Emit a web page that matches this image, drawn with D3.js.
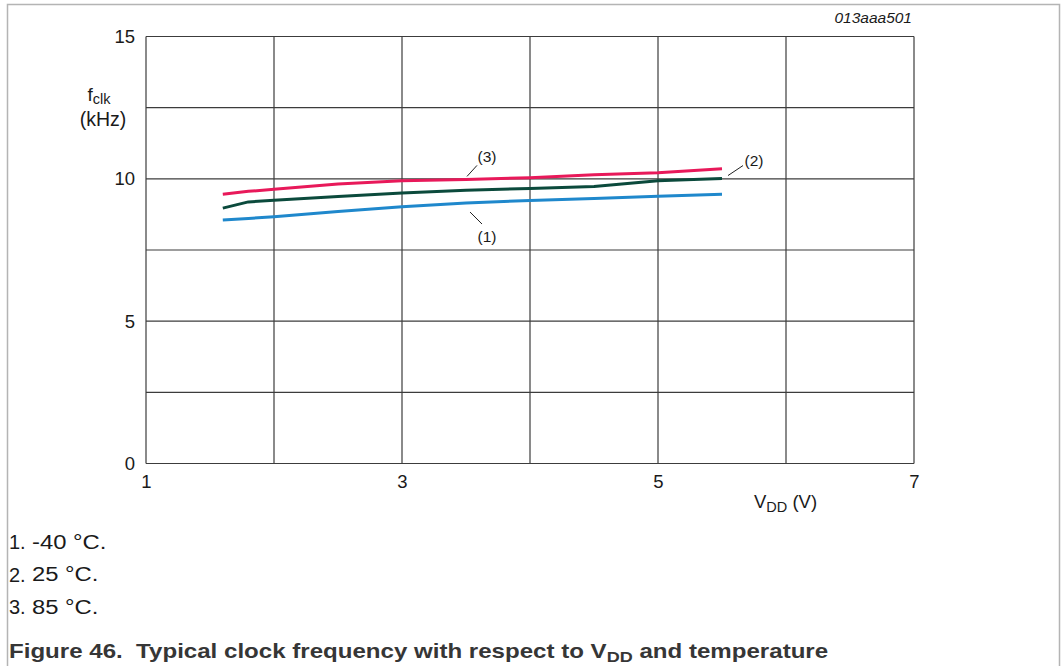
<!DOCTYPE html>
<html>
<head>
<meta charset="utf-8">
<script src="https://cdn.jsdelivr.net/npm/d3@7"></script>
<style>
  html, body { margin: 0; padding: 0; background: #fff; }
  svg { display: block; font-family: "Liberation Sans", Arial, sans-serif; }
</style>
</head>
<body>
<svg id="chart" width="1063" height="666"></svg>
<script>
// Supply voltage (V) sample points
const vdd = [1.6, 1.8, 2.0, 2.5, 3.0, 3.5, 4.0, 4.5, 5.0, 5.5];
// Clock frequency (kHz) per temperature
const fMinus40 = [8.55, 8.61, 8.67, 8.85, 9.02, 9.15, 9.24, 9.31, 9.39, 9.46];
const f25      = [8.97, 9.19, 9.25, 9.38, 9.50, 9.60, 9.66, 9.73, 9.93, 10.01];
const f85      = [9.46, 9.56, 9.63, 9.82, 9.93, 9.98, 10.04, 10.14, 10.21, 10.35];

const xTicks = [1, 3, 5, 7];
const yTicks = [0, 5, 10, 15];
const xGrid = [1, 2, 3, 4, 5, 6, 7];
const yGrid = [0, 2.5, 5, 7.5, 10, 12.5, 15];

const legendItems = ["-40 °C.", "25 °C.", "85 °C."];

const svg = d3.select("#chart");

// outer frame
svg.append("path")
  .attr("d", "M7.5,666 V4.5 H1059.5 V666")
  .attr("fill", "none").attr("stroke", "#b4b4b4").attr("stroke-width", 1.5);

const x = d3.scaleLinear().domain([1, 7]).range([146, 914]);
const y = d3.scaleLinear().domain([0, 15]).range([463.5, 36.5]);

const grid = svg.append("g").attr("stroke", "#3c3c3c").attr("stroke-width", 1.2);
grid.selectAll("line.v").data(xGrid).join("line")
  .attr("x1", d => x(d)).attr("x2", d => x(d))
  .attr("y1", y(0)).attr("y2", y(15));
grid.selectAll("line.h").data(yGrid).join("line")
  .attr("y1", d => y(d)).attr("y2", d => y(d))
  .attr("x1", x(1)).attr("x2", x(7));

// tick labels through d3 axes
const xAxis = svg.append("g")
  .attr("transform", `translate(0,${y(0)})`)
  .call(d3.axisBottom(x).tickValues(xTicks).tickSize(0).tickPadding(11).tickFormat(d3.format("d")));
const yAxis = svg.append("g")
  .attr("transform", `translate(${x(1)},0)`)
  .call(d3.axisLeft(y).tickValues(yTicks).tickSize(0).tickPadding(11).tickFormat(d3.format("d")));
[xAxis, yAxis].forEach(a => {
  a.select(".domain").remove();
  a.selectAll("text").attr("font-size", 18.5).attr("fill", "#1a1a1a")
    .attr("font-family", "Liberation Sans, Arial, sans-serif");
});

// curves
const line = d3.line().x((d, i) => x(vdd[i])).y(d => y(d));
const series = [
  { v: fMinus40, c: "#1f88cc" },
  { v: f25, c: "#0b4a3c" },
  { v: f85, c: "#e8195a" }
];
svg.append("g").selectAll("path").data(series).join("path")
  .attr("d", d => line(d.v))
  .attr("fill", "none").attr("stroke", d => d.c)
  .attr("stroke-width", 3).attr("stroke-linejoin", "round");

// curve callouts
const callouts = [
  { t: "(3)", xv: 3.5, yv: f85[5], dx1: 1, dy1: -3, dx2: 11, dy2: -14, tx: 21, ty: -17 },
  { t: "(1)", xv: 3.5, yv: fMinus40[5], dx1: 4, dy1: 9, dx2: 16, dy2: 21, tx: 21, ty: 39 },
  { t: "(2)", xv: 5.5, yv: f25[9], dx1: 6, dy1: -3, dx2: 21, dy2: -13, tx: 32, ty: -13 }
];
const co = svg.append("g");
callouts.forEach(c => {
  const px = x(c.xv), py = y(c.yv);
  co.append("line")
    .attr("x1", px + c.dx1).attr("y1", py + c.dy1)
    .attr("x2", px + c.dx2).attr("y2", py + c.dy2)
    .attr("stroke", "#222").attr("stroke-width", 1);
  co.append("text").attr("x", px + c.tx).attr("y", py + c.ty)
    .attr("text-anchor", "middle").attr("font-size", 15.5).attr("fill", "#1a1a1a")
    .text(c.t);
});

// figure id
svg.append("text").attr("x", 912).attr("y", 23).attr("text-anchor", "end")
  .attr("font-size", 15.5).attr("font-style", "italic").attr("fill", "#1a1a1a")
  .text("013aaa501");

// y axis title
const yt = svg.append("text").attr("x", 99).attr("y", 101).attr("text-anchor", "middle")
  .attr("font-size", 19).attr("fill", "#1a1a1a");
yt.append("tspan").text("f");
yt.append("tspan").attr("font-size", 14.5).attr("dy", 3).text("clk");
svg.append("text").attr("x", 103).attr("y", 125.5).attr("text-anchor", "middle")
  .attr("font-size", 19.5).attr("fill", "#1a1a1a").text("(kHz)");

// x axis title
const xt = svg.append("text").attr("x", 754).attr("y", 508)
  .attr("font-size", 18.5).attr("fill", "#1a1a1a");
xt.append("tspan").text("V");
xt.append("tspan").attr("font-size", 14.5).attr("dy", 4).text("DD");
xt.append("tspan").attr("dy", -4).text(" (V)");

// temperature key (text set in a slightly wide face)
const wide = 1.19;
const keyX = 9;
const lg = svg.append("g").attr("font-size", 20).attr("fill", "#1a1a1a");
legendItems.forEach((t, i) => {
  const by = 549 + i * 32.5;
  lg.append("text").attr("x", keyX).attr("y", by).text(`${i + 1}.`);
  lg.append("text").attr("x", 0).attr("y", by)
    .attr("transform", `translate(${keyX + 23},0) scale(${wide},1)`)
    .text(t);
});

// caption
const capG = svg.append("g").attr("transform", `translate(${keyX},0) scale(1.205,1)`);
const cap = capG.append("text").attr("x", 0).attr("y", 658)
  .attr("font-size", 20).attr("font-weight", "bold").attr("fill", "#363636");
cap.append("tspan").text("Figure 46.\u00a0\u00a0Typical clock frequency with respect to V");
cap.append("tspan").attr("font-size", 15).attr("dy", 4).text("DD");
cap.append("tspan").attr("dy", -4).text(" and temperature");
</script>
</body>
</html>
